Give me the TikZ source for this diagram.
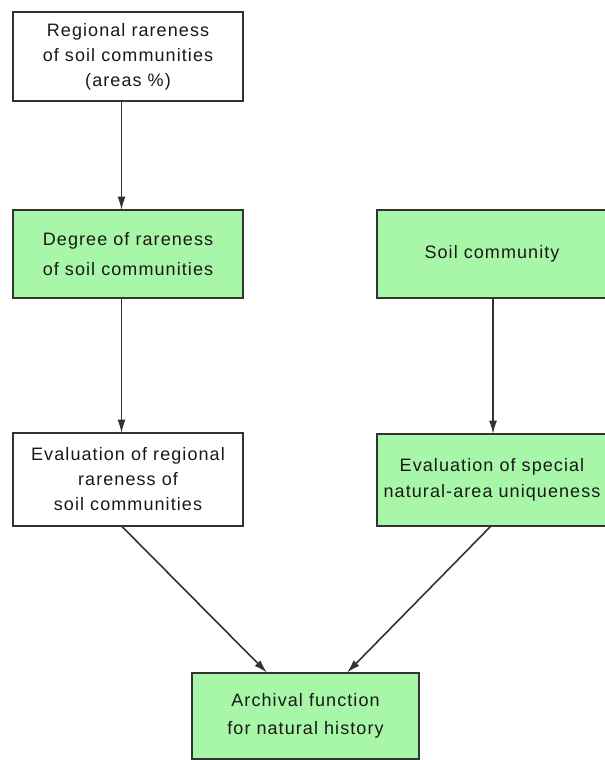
\documentclass[tikz,border=0pt]{standalone}
\usepackage{fontspec}
\setmainfont{Liberation Sans}[LetterSpace=6]
\usetikzlibrary{
    arrows.meta,
    calc,
    positioning
}
\definecolor{boxgreen}{RGB}{168,246,168}
\definecolor{linegray}{RGB}{51,51,51}
\tikzset{
    every picture/.style = {
        > = {Latex[length = 10pt, width = 6pt]},
        line width = 1.2pt
    },
    every node/.style = {
        inner sep = 2pt,
        outer sep = 0pt,
        align = center,
        text = black!90,
        font = \fontsize{13.5}{18.75}\selectfont
    },
    box/.style = {
        draw = linegray,
        line width = 1.5pt,
        minimum width = 172.5pt,
        minimum height = 66pt
    },
    plain box/.style = {box, fill = white},
    green box/.style = {box, fill = boxgreen},
    spacing/.style = {font = \fontsize{13.5}{#1}\selectfont}
}

\begin{document}
\begin{tikzpicture}[x = 0.75pt, y = -0.75pt]

    \useasboundingbox (0, 0) rectangle (605, 760);
    \clip (0, 0) rectangle (605, 760);

    \node[plain box, minimum height = 66.75pt, text depth = 3pt] (regional) at (128, 56.5) {Regional rareness\\ of soil communities\\ (areas \%)};
    \node[green box, spacing = 23pt] (degree) at (128, 254) {Degree of rareness\\ of soil communities};
    \node[green box] (soil) at (492, 254) {Soil community};

    \node[plain box, minimum height = 69.75pt] (evalreg) at (128, 479.5) {Evaluation of regional\\ rareness of\\ soil communities};
    \node[green box, minimum height = 69pt, spacing = 20pt] (evalspec) at (492, 480) {Evaluation of special\\ natural-area uniqueness};

    \node[green box, minimum width = 170pt, minimum height = 65pt, spacing = 21pt] (archive) at (305.5, 716) {Archival function\\ for natural history};

    \draw[->, linegray] ($(regional.south) + (-6.5, 0)$) -- ($(degree.north) + (-6.5, 0)$);
    \draw[->, linegray] ($(degree.south) + (-6.5, 0)$) -- ($(evalreg.north) + (-6.5, 0)$);
    \draw[->, linegray] ($(soil.south) + (1, 0)$) -- ($(evalspec.north) + (1, 0)$);
    \draw[->, linegray] ($(evalreg.south) + (-6.5, 0)$) -- ($(archive.north) + (-38.5, 0)$);
    \draw[->, linegray] ($(evalspec.south) + (-1, 0)$) -- ($(archive.north) + (41.5, 0)$);

\end{tikzpicture}
\end{document}
